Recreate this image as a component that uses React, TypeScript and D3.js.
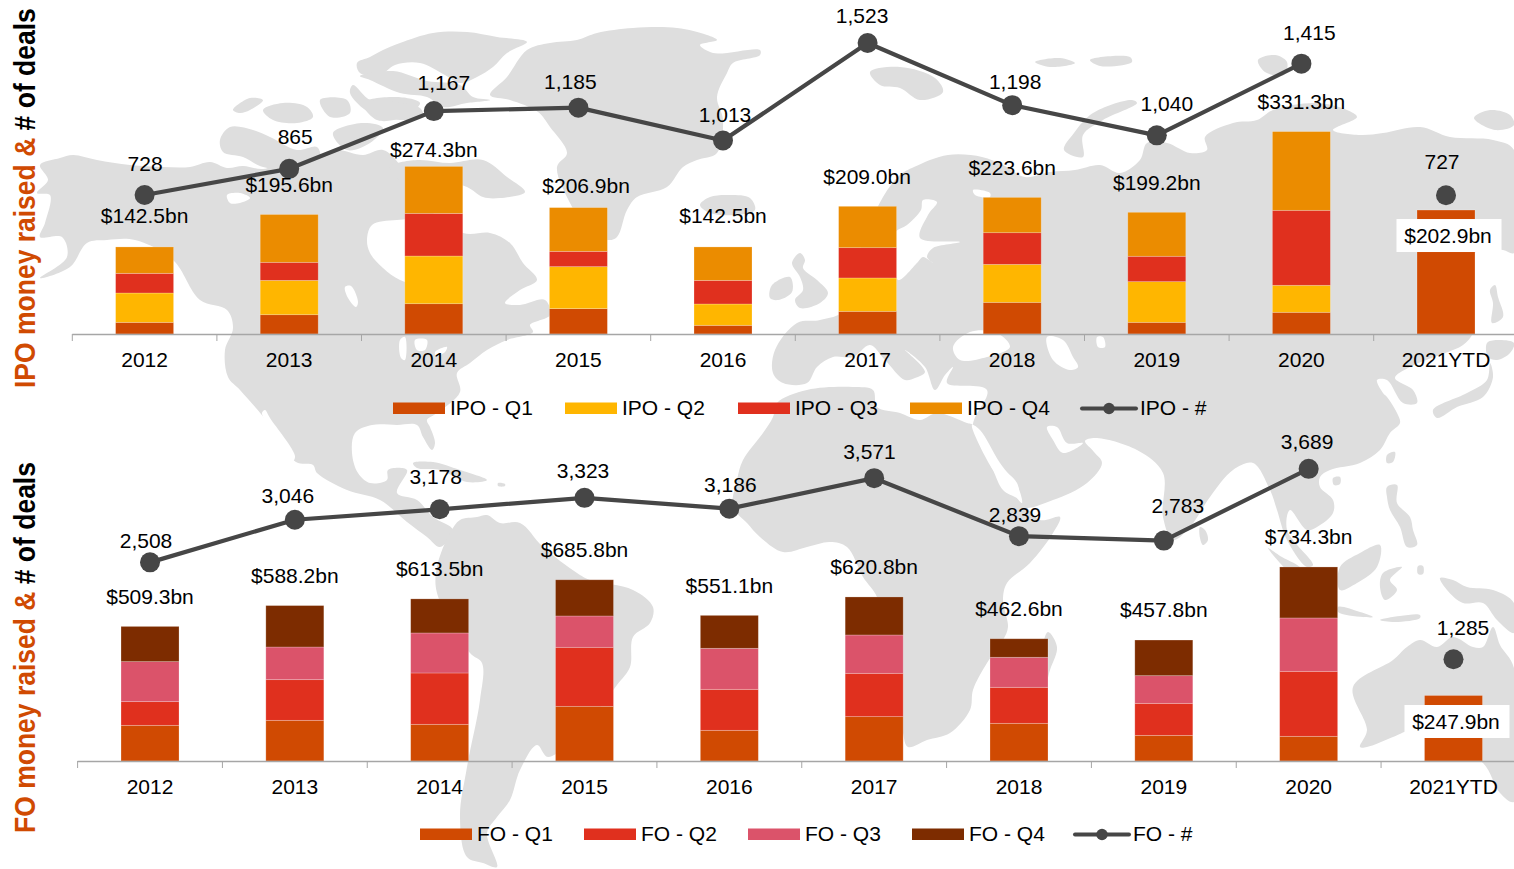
import React from "react";
import * as d3 from "d3";

// ---------- data ----------
const years = ["2012", "2013", "2014", "2015", "2016", "2017", "2018", "2019", "2020", "2021YTD"];

const ipoQ1 = [19.1, 31.6, 49.6, 41.5, 14.2, 37.1, 51.8, 19.1, 35.5, 202.9];
const ipoQ2 = [48.0, 56.2, 78.0, 68.7, 34.9, 54.6, 62.2, 66.6, 44.2, 0];
const ipoQ3 = [32.2, 29.5, 69.8, 25.1, 38.7, 49.6, 51.8, 41.5, 122.7, 0];
const ipoQ4 = [43.2, 78.3, 76.9, 71.6, 54.7, 67.7, 57.8, 72.0, 128.9, 0];
const ipoTotals = ["$142.5bn", "$195.6bn", "$274.3bn", "$206.9bn", "$142.5bn", "$209.0bn", "$223.6bn", "$199.2bn", "$331.3bn", "$202.9bn"];
const ipoCounts = [728, 865, 1167, 1185, 1013, 1523, 1198, 1040, 1415, 727];

const foQ1 = [135.0, 153.9, 138.8, 206.9, 116.1, 167.8, 142.6, 97.1, 93.4, 247.9];
const foQ2 = [89.6, 153.9, 194.3, 223.3, 155.2, 164.0, 136.3, 121.1, 246.0, 0];
const foQ3 = [151.4, 123.6, 151.4, 118.6, 155.2, 145.1, 113.6, 104.7, 201.9, 0];
const foQ4 = [133.3, 156.8, 129.0, 137.0, 124.6, 143.9, 70.1, 134.9, 193.0, 0];
const foTotals = ["$509.3bn", "$588.2bn", "$613.5bn", "$685.8bn", "$551.1bn", "$620.8bn", "$462.6bn", "$457.8bn", "$734.3bn", "$247.9bn"];
const foCounts = [2508, 3046, 3178, 3323, 3186, 3571, 2839, 2783, 3689, 1285];

const ipoLegend = ["IPO - Q1", "IPO - Q2", "IPO - Q3", "IPO - Q4"];
const foLegend = ["FO - Q1", "FO - Q2", "FO - Q3", "FO - Q4"];

// ---------- styles / layout ----------
const ipoColors = ["#D04A02", "#FFB600", "#E0301E", "#EB8C00"];
const foColors = ["#D04A02", "#E0301E", "#DB536A", "#7D2C00"];
const LINE = "#464646";
const LAND = "#DEDEDE";
const FONT = "'Liberation Sans', Arial, sans-serif";
const FS = 21;
const BAR_W = 58;
const TEXT_NUDGE = -1;

const ipoCountDx = [0.5, 6, 10, -8, 2, -5.5, 3, 10, 8, -4];
const ipoCountDy = [-31, -31, -28, -25.6, -25.5, -27, -23, -31, -30.6, -33];
const ipoTotalDx = [0, 0, 0, 7.7, 0, -0.5, 0, 0, 0, 2];
const ipoTotalDy = [-30, -29.5, -16.4, -21.6, -30, -29.3, -29.4, -29.3, -29.6, 26];
const foCountDx = [-4, -7, -4, -1.5, 1, -4.7, -4, 14, -1.6, 9.5];
const foCountDy = [-21, -23.5, -32, -26.6, -23.4, -26, -20.9, -34.4, -26.6, -31];
const foTotalDx = [0, 0, 0, 0, 0, 0, 0, 0, 0, 2.5];
const foTotalDy = [-29.4, -29.6, -29.9, -29.8, -29.4, -30, -29.8, -30, -30, 26.5];

// ---------- decorative background map (traced outline, page pixels) ----------
type P = [number, number];
const landShapes: P[][] = [
  // North and Central America
  [[40,165],[60,158],[73,155],[97,160],[130,165],[163,167],[190,167],[210,162],[227,168],[243,166],[263,169],[283,163],[313,162],[323,155],[337,150],[363,155],[383,150],[400,165],[420,200],[463,233],[490,233],[510,243],[523,263],[537,280],[520,290],[505,303],[520,305],[545,300],[550,315],[530,325],[533,332],[507,340],[487,350],[470,363],[457,373],[460,392],[437,413],[427,420],[430,427],[435,443],[432,450],[423,437],[417,425],[397,425],[372,425],[355,433],[352,453],[358,473],[370,483],[387,480],[388,470],[407,470],[397,493],[417,500],[433,517],[453,530],[440,547],[427,537],[407,522],[380,500],[347,490],[317,473],[313,465],[296,462],[270,425],[240,390],[228,377],[225,350],[233,328],[227,310],[200,300],[173,260],[135,240],[107,240],[87,243],[70,267],[40,278],[67,257],[62,237],[40,237],[45,223],[50,195],[37,193],[48,180]],
  // Arctic islands
  [[220,140],[230,127],[253,130],[270,137],[297,150],[317,147],[320,160],[297,168],[263,167],[243,157],[223,152]],
  [[233,110],[250,98],[263,100],[250,110],[240,113]],
  [[263,110],[283,103],[307,107],[313,117],[297,123],[273,120]],
  [[320,100],[347,100],[350,113],[330,117]],
  [[333,133],[363,123],[383,128],[370,143],[347,150]],
  [[363,103],[397,97],[420,103],[403,117],[377,120]],
  [[357,63],[370,57],[383,50],[400,43],[433,33],[467,32],[497,37],[527,42],[507,53],[493,67],[477,77],[460,83],[445,75],[420,63],[395,65],[380,75],[360,73]],
  [[360,76],[393,71],[427,81],[460,85],[473,97],[490,100],[467,103],[443,107],[427,97],[400,93],[370,80]],
  [[353,85],[370,100],[393,102],[420,108],[423,117],[400,120],[370,113],[350,93]],
  [[390,167],[417,160],[450,163],[483,160],[507,177],[525,192],[500,198],[483,197],[467,187],[440,180],[400,180]],
  // Greenland
  [[527,50],[550,43],[577,40],[597,33],[633,28],[677,28],[707,35],[717,40],[700,45],[713,53],[760,50],[760,55],[733,63],[727,73],[717,97],[723,120],[717,153],[697,160],[683,167],[667,187],[637,197],[627,210],[617,237],[608,240],[585,225],[570,203],[557,167],[567,153],[550,127],[538,112],[510,100],[490,95],[507,77]],
  // Iceland, Britain, Ireland
  [[700,205],[710,197],[730,195],[750,198],[755,210],[735,215],[710,213]],
  [[772,285],[790,277],[792,292],[778,300],[770,298]],
  [[792,263],[800,253],[805,260],[803,268],[817,280],[828,293],[820,303],[800,308],[795,300],[803,290],[800,277]],
  // Svalbard & far-north islands
  [[870,72],[900,67],[935,78],[943,92],[920,100],[900,88],[880,85]],
  [[1035,62],[1060,58],[1075,63],[1050,67]],
  [[1090,60],[1130,57],[1132,62],[1100,66]],
  [[1258,60],[1275,55],[1287,62],[1284,75],[1265,72]],
  [[1474,118],[1490,110],[1510,115],[1514,125],[1495,130]],
  // Novaya Zemlya
  [[1132,100],[1093,113],[1074,133],[1064,150],[1083,157],[1083,135],[1103,120],[1137,103]],
  // Eurasia
  [[775,350],[797,323],[820,320],[845,310],[860,250],[883,197],[900,175],[914,167],[948,155],[982,157],[1003,165],[1025,177],[1050,172],[1075,170],[1100,165],[1120,173],[1140,160],[1147,143],[1167,143],[1190,153],[1207,150],[1205,137],[1233,123],[1257,120],[1273,110],[1317,103],[1347,110],[1357,117],[1333,130],[1360,135],[1383,133],[1420,127],[1450,137],[1493,140],[1514,150],[1514,253],[1503,250],[1477,250],[1475,300],[1473,333],[1463,345],[1453,350],[1410,367],[1395,378],[1413,390],[1417,403],[1403,403],[1387,380],[1377,380],[1383,393],[1387,397],[1397,413],[1400,423],[1390,433],[1380,450],[1360,463],[1330,470],[1320,477],[1320,487],[1333,500],[1333,513],[1317,527],[1307,530],[1290,510],[1287,530],[1313,565],[1307,567],[1287,540],[1277,510],[1270,490],[1253,463],[1233,470],[1210,497],[1190,527],[1173,540],[1163,517],[1163,473],[1137,450],[1095,438],[1085,441],[1094,452],[1102,463],[1087,483],[1053,500],[1023,507],[1017,483],[997,463],[973,427],[987,390],[947,383],[953,367],[945,375],[935,390],[925,367],[905,350],[925,372],[915,378],[905,380],[885,360],[870,345],[853,357],[833,357],[817,367],[807,383],[783,383],[773,373]],
  // Africa
  [[773,417],[777,403],[807,390],[853,387],[873,390],[877,407],[900,413],[920,420],[937,413],[967,423],[973,425],[993,470],[1003,490],[1020,500],[1040,520],[1060,517],[1053,533],[1030,563],[1007,583],[1003,600],[1008,627],[1003,640],[987,663],[973,690],[970,710],[950,733],[927,740],[908,747],[903,733],[900,700],[885,640],[877,597],[863,577],[847,547],[830,542],[807,547],[783,552],[760,537],[747,523],[733,507],[737,480],[743,460],[763,433]],
  // South America
  [[477,517],[487,515],[500,523],[520,523],[543,547],[577,573],[590,580],[633,590],[653,607],[650,623],[633,637],[630,667],[617,685],[590,720],[548,757],[537,745],[520,770],[510,800],[497,817],[487,833],[497,867],[483,863],[467,857],[460,817],[467,767],[480,700],[482,663],[470,653],[437,593],[437,567],[450,533],[460,520]],
  // Caribbean
  [[413,463],[433,462],[460,470],[487,480],[467,482],[440,470],[417,468]],
  [[498,483],[505,484],[505,486],[498,486]],
  // Japan, Sakhalin, Taiwan, Hainan
  [[1490,290],[1495,285],[1498,297],[1503,317],[1492,323],[1493,303]],
  [[1487,343],[1497,340],[1514,343],[1510,353],[1497,360],[1488,357]],
  [[1490,363],[1487,380],[1467,393],[1433,410],[1437,418],[1457,407],[1483,397],[1493,377]],
  [[1387,455],[1395,452],[1393,462],[1387,463]],
  [[1333,478],[1340,477],[1340,484],[1334,485]],
  // South-east Asia
  [[1387,487],[1397,485],[1397,503],[1410,517],[1413,530],[1417,545],[1407,547],[1400,527],[1390,510],[1387,497]],
  [[1268,548],[1282,557],[1300,567],[1335,600],[1320,600]],
  [[1340,567],[1360,553],[1380,545],[1377,567],[1357,583],[1340,590]],
  [[1383,573],[1402,567],[1390,580],[1397,590],[1385,600],[1380,587]],
  [[1338,607],[1360,612],[1373,617],[1363,617],[1338,612]],
  [[1380,620],[1400,616],[1420,615],[1420,618],[1395,622]],
  [[1418,566],[1423,566],[1423,574],[1418,574]],
  [[1440,578],[1453,580],[1467,587],[1493,590],[1514,603],[1514,633],[1497,620],[1483,603],[1463,603],[1447,590]],
  // Australia
  [[1353,687],[1393,660],[1407,647],[1420,640],[1437,647],[1453,637],[1473,647],[1483,647],[1493,627],[1500,645],[1514,668],[1514,802],[1500,793],[1483,763],[1440,740],[1413,730],[1393,737],[1367,747],[1360,747],[1367,730]],
  // Madagascar, Sri Lanka
  [[1048,632],[1057,647],[1050,670],[1040,700],[1030,690],[1040,655]],
  [[1200,527],[1205,530],[1208,540],[1203,545],[1200,538]],
];

// White water drawn over the land
const waterShapes: P[][] = [
  [[367,240],[372,225],[397,220],[440,220],[460,240],[455,270],[420,285],[400,280],[383,268],[370,253]],
  [[345,287],[351,286],[358,302],[356,307],[348,298]],
  [[227,195],[240,193],[250,198],[240,203],[230,203]],
  [[262,413],[265,410],[270,418],[295,456],[293,461],[278,440]],
  [[400,340],[405,337],[405,360],[401,358]],
  [[415,340],[427,340],[425,350],[417,350]],
  [[435,352],[447,347],[445,352],[436,356]],
  [[895,233],[907,225],[921,210],[923,200],[937,202],[928,215],[920,238],[960,242],[933,248],[927,257],[933,263],[923,257],[917,263],[898,280]],
  [[953,347],[970,332],[997,333],[1010,347],[987,357],[960,360]],
  [[1047,337],[1063,340],[1073,357],[1078,367],[1070,370],[1053,360]],
  [[1097,337],[1103,337],[1105,347],[1098,347]],
  [[972,425],[980,430],[1000,463],[1018,487],[1022,503],[1013,493],[993,470]],
  [[1047,427],[1057,427],[1067,443],[1083,443],[1063,453],[1053,440]],
  [[973,190],[990,193],[990,197],[975,195]],
  [[1275,170],[1290,140],[1297,142],[1285,172]],
];

const ring = d3.line<P>().x((d) => d[0]).y((d) => d[1]).curve(d3.curveCatmullRomClosed.alpha(0.5));

// ---------- panel ----------
type PanelProps = {
  x0: number;
  x1: number;
  base: number;
  money: d3.ScaleLinear<number, number>;
  deals: d3.ScaleLinear<number, number>;
  stacks: number[][];
  colors: string[];
  totals: string[];
  counts: number[];
  countDx: number[];
  countDy: number[];
  totalDx: number[];
  totalDy: number[];
};

function Panel(p: PanelProps) {
  const band = d3.scaleBand<string>().domain(years).range([p.x0, p.x1]);
  const cx = (i: number) => band(years[i])! + band.bandwidth() / 2;
  const stack = d3
    .stack<number>()
    .keys(p.colors.map((_, k) => String(k)))
    .value((i, key) => p.stacks[+key][i]);
  const layers = stack(d3.range(years.length));
  const last = years.length - 1;
  const path = d3
    .line<number>()
    .x((_, i) => cx(i))
    .y((d) => p.deals(d))(p.counts.slice(0, last));
  const tickStops = [...years.map((y) => band(y)!), p.x1];
  const lastTop = p.money(d3.sum(p.stacks, (s) => s[last]));
  const boxY = lastTop + p.totalDy[last];
  return (
    <g>
      {layers.map((layer, k) =>
        layer.map((d, i) =>
          d[1] - d[0] > 0 ? (
            <rect
              key={k + "-" + i}
              x={cx(i) - BAR_W / 2}
              width={BAR_W}
              y={p.money(d[1])}
              height={p.money(d[0]) - p.money(d[1])}
              fill={p.colors[k]}
              stroke="#ffffff"
              strokeOpacity={0.3}
              strokeWidth={0.75}
            />
          ) : null
        )
      )}
      <line x1={p.x0} x2={p.x1} y1={p.base + 0.5} y2={p.base + 0.5} stroke="#A6A6A6" strokeWidth={1.5} />
      {tickStops.map((t, i) => (
        <line key={i} x1={t} x2={t} y1={p.base} y2={p.base + 7} stroke="#A6A6A6" strokeWidth={1} />
      ))}
      {years.map((y, i) => (
        <text key={y} x={cx(i)} y={p.base + 32.5} textAnchor="middle" fontSize={FS}>
          {y}
        </text>
      ))}
      <rect x={cx(last) + p.totalDx[last] - 51.5} y={boxY - 17} width={105} height={33} fill="#ffffff" />
      <path d={path ?? ""} fill="none" stroke={LINE} strokeWidth={4.2} strokeLinejoin="round" />
      {p.counts.map((c, i) => (
        <circle key={i} cx={cx(i)} cy={p.deals(c)} r={10} fill={LINE} />
      ))}
      {p.counts.map((c, i) => (
        <text key={i} x={cx(i) + p.countDx[i]} y={p.deals(c) + p.countDy[i] + TEXT_NUDGE} dy="0.36em" textAnchor="middle" fontSize={FS}>
          {d3.format(",")(c)}
        </text>
      ))}
      {p.totals.map((t, i) => (
        <text
          key={i}
          x={cx(i) + p.totalDx[i]}
          y={p.money(d3.sum(p.stacks, (s) => s[i])) + p.totalDy[i] + TEXT_NUDGE}
          dy="0.36em"
          textAnchor="middle"
          fontSize={FS}
        >
          {t}
        </text>
      ))}
    </g>
  );
}

function Legend({ labels, colors, lineLabel, xs, lineX, y }: { labels: string[]; colors: string[]; lineLabel: string; xs: number[]; lineX: number; y: number }) {
  return (
    <g>
      {labels.map((l, i) => (
        <g key={l}>
          <rect x={xs[i]} y={y - 6} width={52} height={11.5} fill={colors[i]} />
          <text x={xs[i] + 57} y={y + TEXT_NUDGE} dy="0.36em" fontSize={FS}>
            {l}
          </text>
        </g>
      ))}
      <line x1={lineX} x2={lineX + 54} y1={y} y2={y} stroke={LINE} strokeWidth={4} strokeLinecap="round" />
      <circle cx={lineX + 27} cy={y} r={5.7} fill={LINE} />
      <text x={lineX + 58} y={y + TEXT_NUDGE} dy="0.36em" fontSize={FS}>
        {lineLabel}
      </text>
    </g>
  );
}

function Title({ y, first }: { y: number; first: string }) {
  return (
    <text transform={`translate(35,${y}) rotate(-90) scale(1,1.1)`} fontSize={26.5} fontWeight={700}>
      <tspan fill="#D04A02">{first} money raised &amp; </tspan>
      <tspan fill="#000000"># of deals</tspan>
    </text>
  );
}

export default function App() {
  const ipoMoney = d3.scaleLinear().domain([0, 400]).range([334, 89.6]);
  const ipoDeals = d3.scaleLinear().domain([0, 1600]).range([334.2, 28.3]);
  const foMoney = d3.scaleLinear().domain([0, 800]).range([761, 549.6]);
  const foDeals = d3.scaleLinear().domain([0, 4000]).range([761, 444.2]);
  return (
    <svg
      width={1514}
      height={869}
      viewBox="0 0 1514 869"
      style={{ position: "absolute", left: 0, top: 0, fontFamily: FONT, background: "#fff" }}
    >
      <g>
        {landShapes.map((s, i) => (
          <path key={i} d={ring(s) ?? ""} fill={LAND} />
        ))}
        {waterShapes.map((s, i) => (
          <path key={i} d={ring(s) ?? ""} fill="#ffffff" />
        ))}
      </g>
      <Title y={388} first="IPO" />
      <Title y={833} first="FO" />
      <Panel
        x0={72.3}
        x1={1518.3}
        base={334}
        money={ipoMoney}
        deals={ipoDeals}
        stacks={[ipoQ1, ipoQ2, ipoQ3, ipoQ4]}
        colors={ipoColors}
        totals={ipoTotals}
        counts={ipoCounts}
        countDx={ipoCountDx}
        countDy={ipoCountDy}
        totalDx={ipoTotalDx}
        totalDy={ipoTotalDy}
      />
      <Panel
        x0={77.6}
        x1={1525.9}
        base={761}
        money={foMoney}
        deals={foDeals}
        stacks={[foQ1, foQ2, foQ3, foQ4]}
        colors={foColors}
        totals={foTotals}
        counts={foCounts}
        countDx={foCountDx}
        countDy={foCountDy}
        totalDx={foTotalDx}
        totalDy={foTotalDy}
      />
      <Legend labels={ipoLegend} colors={ipoColors} lineLabel="IPO - #" xs={[393, 565, 738, 910]} lineX={1082} y={408.5} />
      <Legend labels={foLegend} colors={foColors} lineLabel="FO - #" xs={[420, 584, 748, 912]} lineX={1075} y={834.5} />
    </svg>
  );
}
